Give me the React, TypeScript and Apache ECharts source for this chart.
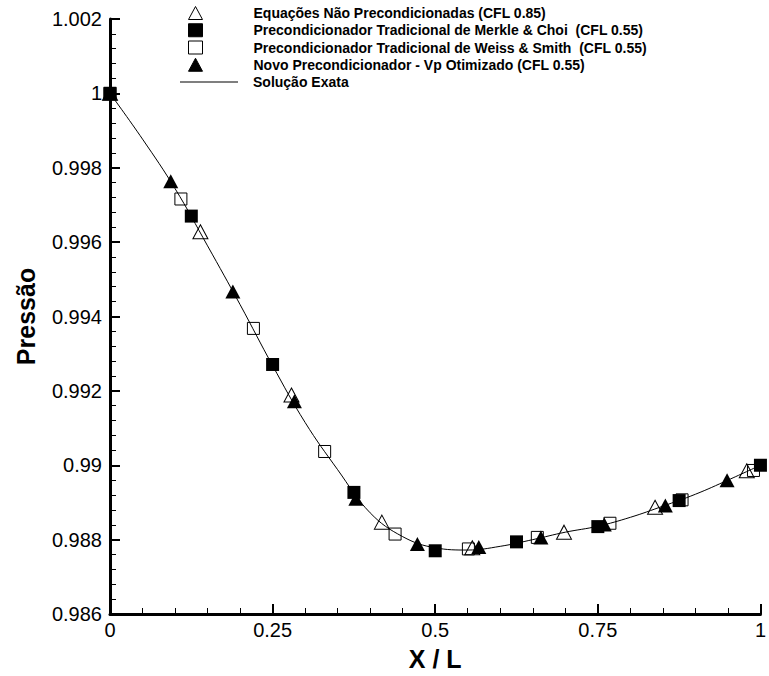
import React, { useEffect, useRef } from "react";
import * as echarts from "echarts";

// Exact solution (Solução Exata)
const exactX = [0, 0.05, 0.1, 0.15, 0.2, 0.25, 0.3, 0.35, 0.4, 0.45, 0.5, 0.55, 0.6, 0.65, 0.7, 0.75, 0.8, 0.85, 0.9, 0.95, 1.0];
const exactP = [1.0, 0.99877, 0.99744, 0.9959, 0.99432, 0.99268, 0.99115, 0.98988, 0.98872, 0.98808, 0.98778, 0.98772, 0.98782, 0.988, 0.9882, 0.98836, 0.9886, 0.9889, 0.98922, 0.9896, 0.99];

// Equações Não Precondicionadas (CFL 0.85)
const naoPrecX = [0, 0.139, 0.279, 0.418, 0.557, 0.698, 0.838, 0.979];
const naoPrecP = [1.0, 0.99628, 0.99189, 0.98847, 0.98778, 0.9882, 0.98887, 0.98985];

// Precondicionador Tradicional de Merkle & Choi (CFL 0.55)
const merkleX = [0, 0.125, 0.25, 0.375, 0.5, 0.625, 0.75, 0.875, 1.0];
const merkleP = [1.0, 0.9967, 0.99271, 0.98927, 0.9877, 0.98794, 0.98835, 0.98905, 0.99];

// Precondicionador Tradicional de Weiss & Smith (CFL 0.55)
const weissX = [0, 0.109, 0.2205, 0.33, 0.4383, 0.551, 0.657, 0.7686, 0.8795, 0.9893];
const weissP = [1.0, 0.99716, 0.99368, 0.99037, 0.98815, 0.98775, 0.98806, 0.98844, 0.98907, 0.98986];

// Novo Precondicionador - Vp Otimizado (CFL 0.55)
const novoX = [0, 0.0934, 0.1889, 0.2835, 0.378, 0.4726, 0.567, 0.6625, 0.76, 0.8538, 0.9487];
const novoP = [1.0, 0.99764, 0.99467, 0.99172, 0.9891, 0.98788, 0.9878, 0.98806, 0.98841, 0.98892, 0.9896];

const seriesNames = [
  "Equações Não Precondicionadas (CFL 0.85)",
  "Precondicionador Tradicional de Merkle & Choi  (CFL 0.55)",
  "Precondicionador Tradicional de Weiss & Smith  (CFL 0.55)",
  "Novo Precondicionador - Vp Otimizado (CFL 0.55)",
];
const lineName = "Solução Exata";

const xTicks = { min: 0, max: 1, interval: 0.25 };
const yTicks = { min: 0.986, max: 1.002, interval: 0.002 };

const zip = (xs: number[], ys: number[]) => xs.map((x, i) => [x, ys[i]]);

const FONT = "Arial, 'Liberation Sans', sans-serif";

export default function App() {
  const ref = useRef<HTMLDivElement>(null);
  useEffect(() => {
    if (!ref.current) return;
    const chart = echarts.init(ref.current, undefined, { renderer: "svg" });
    const hollow = { color: "rgba(0,0,0,0)", borderColor: "#000", borderWidth: 1, opacity: 1 };
    const solid = { color: "#000", borderColor: "#000", borderWidth: 0, opacity: 1 };
    const legendText = { fontFamily: FONT, fontWeight: "bold", fontSize: 14, lineHeight: 14, color: "#000" };
    chart.setOption({
      animation: false,
      backgroundColor: "#fff",
      grid: { left: 110, right: 6, top: 19, bottom: 62, containLabel: false },
      legend: [
        {
          orient: "vertical",
          left: 188,
          top: 6,
          padding: 0,
          itemWidth: 14,
          itemHeight: 13,
          itemGap: 3.25,
          data: seriesNames,
          itemStyle: { borderWidth: 1 },
          textStyle: { ...legendText, padding: [0, 0, 0, 46] },
          selectedMode: false,
        },
        {
          orient: "vertical",
          left: 180,
          top: 75,
          padding: 0,
          itemWidth: 58,
          itemHeight: 1,
          data: [{ name: lineName, icon: "rect" }],
          itemStyle: { color: "#000", borderWidth: 0 },
          textStyle: { ...legendText, padding: [0, 0, 0, 10] },
          selectedMode: false,
        },
      ],
      xAxis: {
        type: "value",
        min: xTicks.min,
        max: xTicks.max,
        interval: xTicks.interval,
        name: "X / L",
        nameLocation: "middle",
        nameGap: 32,
        nameTextStyle: { fontFamily: FONT, fontWeight: "bold", fontSize: 25, color: "#000" },
        axisLine: { show: true, onZero: false, lineStyle: { color: "#000", width: 3 } },
        axisTick: { show: true, inside: true, length: 10, lineStyle: { color: "#000", width: 2 } },
        minorTick: { show: true, splitNumber: 5, length: 6, lineStyle: { color: "#000", width: 1 } },
        axisLabel: {
          fontFamily: FONT,
          fontSize: 20,
          color: "#000",
          margin: 6,
          formatter: (v: number) => String(Number(v.toFixed(3))),
        },
        splitLine: { show: false },
        minorSplitLine: { show: false },
      },
      yAxis: {
        type: "value",
        min: yTicks.min,
        max: yTicks.max,
        interval: yTicks.interval,
        name: "Pressão",
        nameLocation: "middle",
        nameGap: 72,
        nameTextStyle: { fontFamily: FONT, fontWeight: "bold", fontSize: 25, color: "#000" },
        axisLine: { show: true, onZero: false, lineStyle: { color: "#000", width: 3 } },
        axisTick: { show: true, inside: true, length: 10, lineStyle: { color: "#000", width: 2 } },
        minorTick: { show: true, splitNumber: 5, length: 6, lineStyle: { color: "#000", width: 1 } },
        axisLabel: {
          fontFamily: FONT,
          fontSize: 20,
          color: "#000",
          margin: 8,
          formatter: (v: number) => String(Number(v.toFixed(3))),
        },
        splitLine: { show: false },
        minorSplitLine: { show: false },
      },
      series: [
        {
          name: lineName,
          type: "line",
          data: zip(exactX, exactP),
          smooth: 0.4,
          symbol: "none",
          showSymbol: false,
          lineStyle: { color: "#000", width: 1 },
          itemStyle: { color: "#000" },
          z: 1,
        },
        {
          name: seriesNames[0],
          type: "scatter",
          symbol: "triangle",
          symbolSize: [15, 14],
          data: zip(naoPrecX, naoPrecP),
          itemStyle: hollow,
          z: 2,
        },
        {
          name: seriesNames[1],
          type: "scatter",
          symbol: "rect",
          symbolSize: 13,
          data: zip(merkleX, merkleP),
          itemStyle: solid,
          z: 3,
        },
        {
          name: seriesNames[2],
          type: "scatter",
          symbol: "rect",
          symbolSize: 12,
          data: zip(weissX, weissP),
          itemStyle: hollow,
          z: 4,
        },
        {
          name: seriesNames[3],
          type: "scatter",
          symbol: "triangle",
          symbolSize: [15, 14],
          data: zip(novoX, novoP),
          itemStyle: solid,
          z: 5,
        },
      ],
    });
    return () => chart.dispose();
  }, []);
  return (
    <div
      ref={ref}
      style={{ position: "fixed", left: 0, top: 0, width: 769, height: 676, background: "#fff" }}
    />
  );
}
